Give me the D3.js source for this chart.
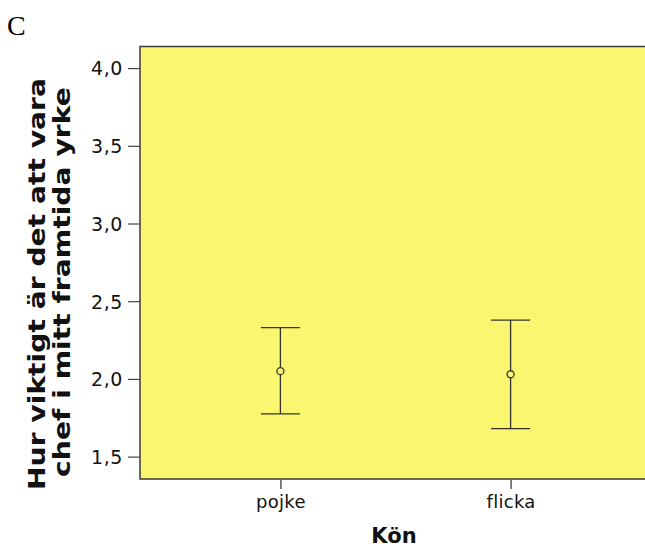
<!DOCTYPE html>
<html><head><meta charset="utf-8">
<script src="https://cdn.jsdelivr.net/npm/d3@7"></script>
<style>body{margin:0;background:#fff;}svg{display:block;}</style>
</head><body>
<script>
const categories = ["pojke", "flicka"];
const means = [2.05, 2.03];
const lower = [1.775, 1.68];
const upper = [2.33, 2.378];
const yTicks = [1.5, 2.0, 2.5, 3.0, 3.5, 4.0];
const xTitle = "Kön";
const yTitle = ["Hur viktigt är det att vara", "chef i mitt framtida yrke"];
const panelLabel = "C";

const W = 645, H = 547;
const plot = {left: 140, top: 46.5, right: 651, bottom: 479};
const svg = d3.select("body").append("svg").attr("width", W).attr("height", H);

const y = d3.scaleLinear().domain([1.356, 4.139]).range([plot.bottom, plot.top]);
const x = d3.scalePoint().domain(categories).range([plot.left, plot.right]).padding(0.61);

svg.append("rect").attr("x", plot.left).attr("y", plot.top)
  .attr("width", plot.right - plot.left).attr("height", plot.bottom - plot.top)
  .attr("fill", "#faf66f").attr("stroke", "#3a3a3a").attr("stroke-width", 1.5);

const font = "'DejaVu Sans', Verdana, sans-serif";
// Y axis
const yAxis = svg.append("g").attr("transform", `translate(${plot.left},0)`)
  .call(d3.axisLeft(y).tickValues(yTicks).tickSize(12).tickPadding(5)
    .tickFormat(d => d3.format(".1f")(d).replace(".", ",")));
yAxis.select(".domain").remove();
yAxis.selectAll("line").attr("stroke", "#444").attr("stroke-width", 1.2);
yAxis.selectAll("text").attr("font-family", font).attr("font-size", 19).attr("letter-spacing", 0.6)
  .attr("fill", "#111").attr("dy", "0.36em");

// X axis
const xAxis = svg.append("g").attr("transform", `translate(0,${plot.bottom})`)
  .call(d3.axisBottom(x).tickSize(10).tickPadding(6));
xAxis.select(".domain").remove();
xAxis.selectAll("line").attr("stroke", "#555").attr("stroke-width", 1.5);
xAxis.selectAll("text").attr("font-family", font).attr("font-size", 18).attr("letter-spacing", 0.3).attr("fill", "#111");

// Error bars
const g = svg.append("g").attr("stroke", "#333").attr("stroke-width", 1.3).attr("fill", "none");
categories.forEach((c, i) => {
  const cx = x(c);
  g.append("line").attr("x1", cx).attr("x2", cx).attr("y1", y(upper[i])).attr("y2", y(means[i]) - 3.5);
  g.append("line").attr("x1", cx).attr("x2", cx).attr("y1", y(means[i]) + 3.5).attr("y2", y(lower[i]));
  g.append("line").attr("x1", cx - 19.5).attr("x2", cx + 19.5).attr("y1", y(upper[i])).attr("y2", y(upper[i]));
  g.append("line").attr("x1", cx - 19.5).attr("x2", cx + 19.5).attr("y1", y(lower[i])).attr("y2", y(lower[i]));
  g.append("circle").attr("cx", cx).attr("cy", y(means[i])).attr("r", 3.5);
});

// Titles
svg.append("text").attr("x", 394).attr("y", 543)
  .attr("text-anchor", "middle").attr("font-family", font).attr("font-weight", "bold")
  .attr("font-size", 21).attr("fill", "#111").text(xTitle);

const titleLines = [
  {text: yTitle[0], base: 45, center: 284, len: 412},
  {text: yTitle[1], base: 70, center: 282, len: 390}
];
titleLines.forEach(l => {
  const t = svg.append("text").attr("text-anchor", "middle").attr("font-family", font)
    .attr("font-weight", "bold").attr("font-size", 23.5).attr("fill", "#111").text(l.text);
  const nat = t.node().getComputedTextLength();
  const s = l.len / nat;
  t.attr("transform", `translate(${l.base},${l.center}) rotate(-90) scale(${s},1)`);
});

svg.append("text").attr("x", 7).attr("y", 35).attr("font-family", "'Liberation Serif', 'Times New Roman', serif")
  .attr("font-size", 28).attr("fill", "#000").text(panelLabel);
</script>
</body></html>
